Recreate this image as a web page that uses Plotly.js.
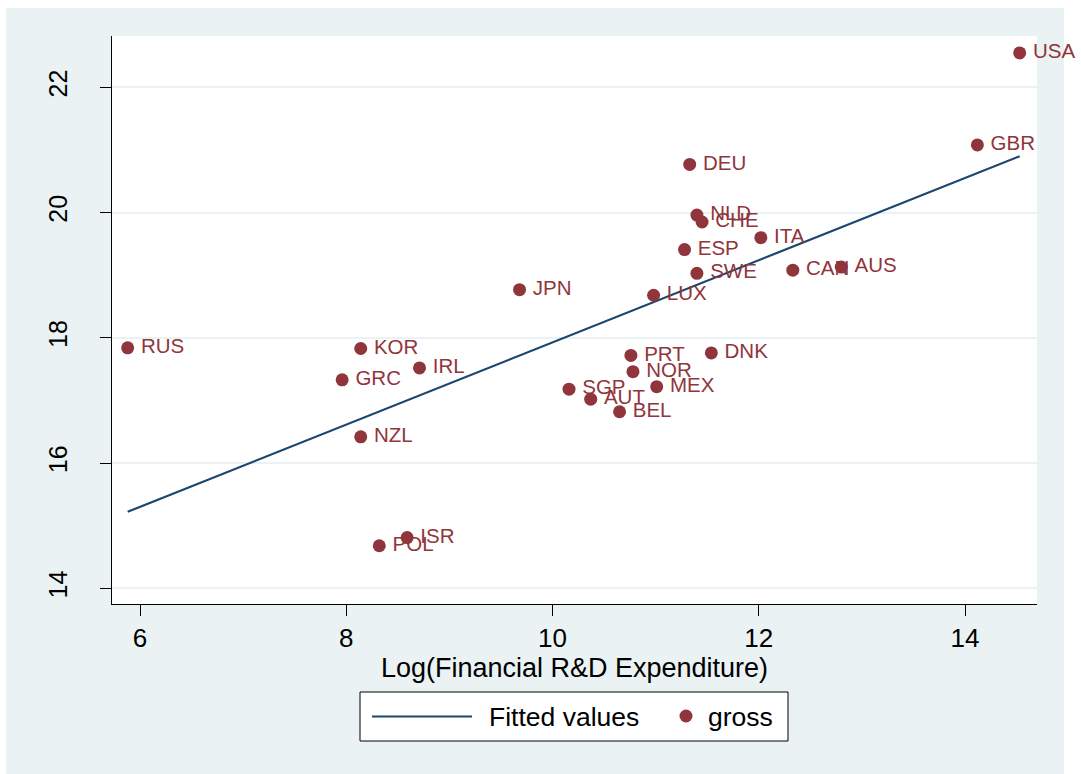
<!DOCTYPE html>
<html>
<head>
<meta charset="utf-8">
<script src="https://cdn.plot.ly/plotly-3.0.1.min.js"></script>
<style>
  html, body { margin: 0; padding: 0; background: #ffffff; }
  #bgbox { position: absolute; left: 6px; top: 8px; width: 1058px; height: 766px; background: #eaf2f3; }
  #chart { position: absolute; left: 6px; top: 8px; width: 1075px; height: 766px; }
</style>
</head>
<body>
<div id="bgbox"></div>
<div id="chart"></div>
<script>
// Country codes
const countries = ["USA","GBR","DEU","NLD","CHE","ITA","ESP","SWE","CAN","AUS","LUX","JPN",
                   "RUS","KOR","IRL","GRC","NZL","PRT","DNK","NOR","MEX","SGP","AUT","BEL","ISR","POL"];
// Log(Financial R&D Expenditure)
const logRD = [14.53,14.12,11.33,11.40,11.45,12.02,11.28,11.40,12.33,12.80,10.98,9.68,
               5.88,8.14,8.71,7.96,8.14,10.76,11.54,10.78,11.01,10.16,10.37,10.65,8.59,8.32];
// gross
const gross = [22.55,21.08,20.77,19.96,19.85,19.60,19.41,19.03,19.08,19.13,18.68,18.77,
               17.84,17.83,17.52,17.33,16.42,17.72,17.76,17.46,17.22,17.18,17.02,16.82,14.81,14.68];
const xTicks = [6, 8, 10, 12, 14];
const yTicks = [14, 16, 18, 20, 22];
const legendLabels = ["Fitted values", "gross"];

// OLS fitted values (linear fit of gross on logRD)
const n = logRD.length;
const mx = logRD.reduce((a, b) => a + b, 0) / n;
const my = gross.reduce((a, b) => a + b, 0) / n;
let sxy = 0, sxx = 0;
for (let i = 0; i < n; i++) { sxy += (logRD[i] - mx) * (gross[i] - my); sxx += (logRD[i] - mx) ** 2; }
const slope = sxy / sxx, intercept = my - slope * mx;
const fitX = [Math.min(...logRD), Math.max(...logRD)];
const fitY = fitX.map(v => intercept + slope * v);

const navy = "#1a476f", maroon = "#90353b", bg = "#eaf2f3";
const fontFam = "Liberation Sans, Arial, Helvetica, sans-serif";

// layout geometry helpers (page pixels -> paper fraction of the plot area)
const PL = 112, PR = 1037, PT = 36, PB = 604;
const px = p => (p - PL) / (PR - PL);
const py = p => (PB - p) / (PB - PT);

const traces = [
  { x: fitX, y: fitY, type: "scatter", mode: "lines", name: legendLabels[0],
    line: { color: navy, width: 2.2 }, hoverinfo: "skip", showlegend: false },
  { x: logRD, y: gross, type: "scatter", mode: "markers+text", name: legendLabels[1],
    text: countries, texttemplate: "\u2009%{text}", textposition: "middle right", cliponaxis: false,
    textfont: { family: fontFam, size: 20.5, color: maroon },
    marker: { color: maroon, size: 13 }, showlegend: false }
];

const legY = 716.5;
const shapes = [
  { type: "rect", xref: "paper", yref: "paper", x0: px(360), x1: px(788), y0: py(741), y1: py(692),
    line: { color: "#000", width: 1 }, fillcolor: "#ffffff", layer: "above" },
  { type: "line", xref: "paper", yref: "paper", x0: px(372), x1: px(472), y0: py(legY), y1: py(legY),
    line: { color: navy, width: 2.2 }, layer: "above" },
  { type: "circle", xref: "paper", yref: "paper", x0: px(679.5), x1: px(692.5), y0: py(722.5), y1: py(709.5),
    line: { color: maroon, width: 0 }, fillcolor: maroon, layer: "above" }
];
const annotations = [
  { xref: "paper", yref: "paper", x: px(487), y: py(legY), xanchor: "left", yanchor: "middle",
    text: legendLabels[0], showarrow: false, font: { family: fontFam, size: 26.5, color: "#000" } },
  { xref: "paper", yref: "paper", x: px(706), y: py(legY), xanchor: "left", yanchor: "middle",
    text: legendLabels[1], showarrow: false, font: { family: fontFam, size: 26.5, color: "#000" } }
];

const layout = {
  width: 1075, height: 766,
  paper_bgcolor: "rgba(0,0,0,0)", plot_bgcolor: "#ffffff",
  margin: { l: 106, r: 44, t: 28, b: 170 },
  font: { family: fontFam, color: "#000" },
  showlegend: false,
  shapes: shapes,
  annotations: annotations,
  xaxis: {
    range: [5.728, 14.698], tickvals: xTicks, ticktext: xTicks.map(String),
    showgrid: false, zeroline: false,
    showline: true, linecolor: "#000", linewidth: 1, mirror: false,
    ticks: "outside", ticklen: 11, tickcolor: "#000", tickwidth: 1,
    tickfont: { family: fontFam, size: 26, color: "#000" },
    title: { text: "Log(Financial R&D Expenditure)", font: { family: fontFam, size: 27, color: "#000" }, standoff: 0 },
    automargin: false
  },
  yaxis: {
    range: [13.75, 22.82], tickvals: yTicks, ticktext: yTicks.map(String),
    showgrid: true, gridcolor: bg, gridwidth: 2, zeroline: false,
    showline: true, linecolor: "#000", linewidth: 1,
    ticks: "outside", ticklen: 11, tickcolor: "#000", tickwidth: 1,
    tickangle: -90, ticklabelstandoff: 23,
    tickfont: { family: fontFam, size: 25, color: "#000" },
    automargin: false
  }
};

Plotly.newPlot("chart", traces, layout, { displayModeBar: false, staticPlot: true });
</script>
</body>
</html>
